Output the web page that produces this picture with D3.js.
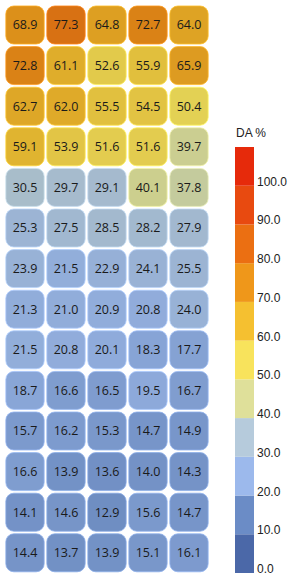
<!DOCTYPE html>
<html>
<head>
<meta charset="utf-8">
<script src="https://cdnjs.cloudflare.com/ajax/libs/d3/7.8.5/d3.min.js"></script>
<style>
    body { margin: 0; background: #fff; }
    .cell text { font-family: "Open Sans", sans-serif; font-size: 12.5px; fill: #1a1a1a; }
    .legend text { font-family: "Liberation Sans", Arial, sans-serif; font-size: 12px; fill: #222; }
</style>
</head>
<body>
<div id="graph1"></div>
<script>
// grid values, one array per row (top to bottom)
var rows = ["r1", "r2", "r3", "r4", "r5", "r6", "r7", "r8", "r9", "r10", "r11", "r12", "r13", "r14"];
var cols = ["c1", "c2", "c3", "c4", "c5"];
var values = [
    [68.9, 77.3, 64.8, 72.7, 64.0],
    [72.8, 61.1, 52.6, 55.9, 65.9],
    [62.7, 62.0, 55.5, 54.5, 50.4],
    [59.1, 53.9, 51.6, 51.6, 39.7],
    [30.5, 29.7, 29.1, 40.1, 37.8],
    [25.3, 27.5, 28.5, 28.2, 27.9],
    [23.9, 21.5, 22.9, 24.1, 25.5],
    [21.3, 21.0, 20.9, 20.8, 24.0],
    [21.5, 20.8, 20.1, 18.3, 17.7],
    [18.7, 16.6, 16.5, 19.5, 16.7],
    [15.7, 16.2, 15.3, 14.7, 14.9],
    [16.6, 13.9, 13.6, 14.0, 14.3],
    [14.1, 14.6, 12.9, 15.6, 14.7],
    [14.4, 13.7, 13.9, 15.1, 16.1]
];
// legend bins
var legendStops = [0, 10, 20, 30, 40, 50, 60, 70, 80, 90, 100];
var legendColors = ["#4b68a8", "#6b8cc6", "#9cb9ec", "#b6cbdc", "#dfe09a", "#f8e35c",
                    "#f5c030", "#ef971a", "#eb6f12", "#e84a10", "#e62a0b"];
var legendTitle = "DA %";

var w = 292;
var h = 579;

var svg = d3.select("#graph1").append("svg")
    .attr("width", w)
    .attr("height", h);

var x = d3.scaleBand()
    .domain(cols)
    .range([4.5, 209.5])
    .paddingInner(0.065)
    .paddingOuter(0.0325);
var y = d3.scaleBand()
    .domain(rows)
    .range([4.7, 573.1])
    .paddingInner(0.064)
    .paddingOuter(0.032);

var color = d3.scaleLinear()
    .domain(legendStops)
    .range(legendColors)
    .clamp(true);

function cellColor(v){
    var c = d3.rgb(color(v));
    c.r = c.r * 0.915; c.g = c.g * 0.925; c.b = c.b * 0.93;
    return c;
}

var cells = [];
values.forEach(function(row, i){
    row.forEach(function(v, j){
        cells.push({row: rows[i], col: cols[j], value: v});
    });
});

var cell = svg.append("g").selectAll(".cell")
    .data(cells)
    .enter()
    .append("g")
    .classed("cell", true)
    .attr("transform", function(d){
        return "translate(" + x(d.col) + "," + y(d.row) + ")";
    });

cell.append("rect")
    .attr("width", x.bandwidth())
    .attr("height", y.bandwidth())
    .attr("rx", 8)
    .attr("ry", 8)
    .style("fill", function(d){ return cellColor(d.value); })
    .style("stroke", function(d){ return d3.rgb(color(d.value)).brighter(0.25); })
    .style("stroke-width", 0.8);

cell.append("text")
    .attr("x", x.bandwidth() / 2)
    .attr("y", y.bandwidth() / 2)
    .attr("dy", "0.36em")
    .style("text-anchor", "middle")
    .text(function(d){ return d.value.toFixed(1); });

// legend
var ly = d3.scaleLinear()
    .domain([0, 110])
    .range([573, 147]);

var legend = svg.append("g").classed("legend", true);

legend.selectAll(".bin")
    .data(legendStops)
    .enter()
    .append("rect")
    .classed("bin", true)
    .attr("x", 235)
    .attr("y", function(d){ return ly(d + 10); })
    .attr("width", 19)
    .attr("height", function(d){ return ly(d) - ly(d + 10); })
    .style("fill", function(d, i){ return legendColors[i]; });

legend.selectAll(".tick")
    .data(legendStops)
    .enter()
    .append("text")
    .classed("tick", true)
    .attr("x", 257)
    .attr("y", function(d){ return ly(d); })
    .text(function(d){ return d3.format(".1f")(d); });

legend.append("text")
    .attr("x", 236)
    .attr("y", 137)
    .text(legendTitle);
</script>
</body>
</html>
